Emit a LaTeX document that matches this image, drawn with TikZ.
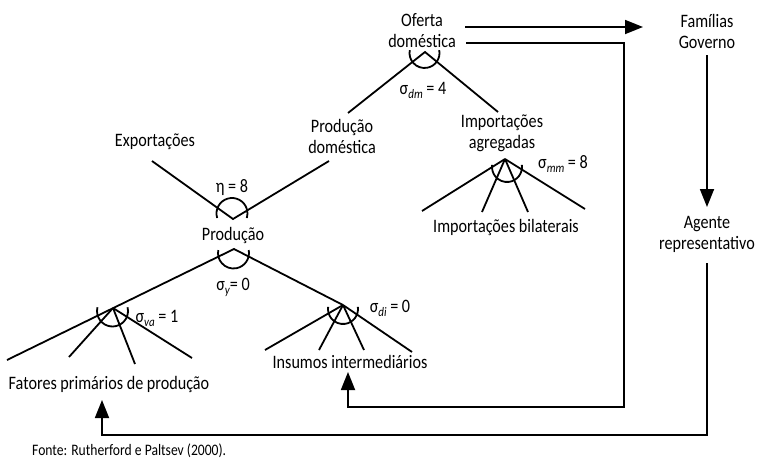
\documentclass[tikz,border=0pt]{standalone}
\usepackage{fontspec}
\setmainfont[FakeStretch=0.85]{Carlito}
\usetikzlibrary{arrows.meta}
\newcommand\sgsub[1]{\raisebox{-4pt}{\fontsize{13}{13}\selectfont\itshape #1}}
\tikzset{
  lbl/.style={inner sep=0pt, font=\fontsize{19}{21}\selectfont},
  twolines/.style={lbl, align=center},
  src/.style={inner sep=0pt, font=\fontsize{16}{18}\selectfont},
  branch/.style={line width=1.8pt},
  elast/.style={line width=1.8pt},
  flow/.style={line width=1.8pt, -{Triangle[length=18pt,width=14pt]}},
  flowline/.style={line width=1.8pt}
}
\begin{document}
\begin{tikzpicture}[x=1pt, y=-1pt]
\path[use as bounding box] (0,0) rectangle (758,466);

% text nodes
\node[twolines] (oferta) at (422,30.5) {Oferta\\doméstica};
\node[twolines] (proddom) at (342,136) {Produção\\doméstica};
\node[twolines] (impagr) at (502,133) {Importações\\agregadas};
\node[twolines] (famgov) at (707,31) {Famílias\\Governo};
\node[twolines] (agente) at (707,234.5) {Agente\\representativo};
\node[lbl, anchor=base] (export) at (155,146) {Exportações};
\node[lbl, anchor=base] (eta) at (232,192) {η = 8};
\node[lbl, anchor=base] (producao) at (233,240) {Produção};
\node[lbl, anchor=base] (sy) at (233,290) {σ\sgsub{y}= 0};
\node[lbl, anchor=base] (sdm) at (423,94) {σ\sgsub{dm} = 4};
\node[lbl, anchor=base] (smm) at (563,168) {σ\sgsub{mm} = 8};
\node[lbl, anchor=base] (sva) at (157,322) {σ\sgsub{va} = 1};
\node[lbl, anchor=base] (sdi) at (390,312) {σ\sgsub{di} = 0};
\node[lbl, anchor=base] (fatores) at (109,389) {Fatores primários de produção};
\node[lbl, anchor=base] (insumos) at (350,368) {Insumos intermediários};
\node[lbl, anchor=base] (impbil) at (506,232) {Importações bilaterais};
\node[src, anchor=base west] (fonte) at (32,455) {Fonte: Rutherford e Paltsev (2000).};

% vertices
\coordinate (vO) at (425,52);
\coordinate (vP1) at (233,219);
\coordinate (vP2) at (234,249);
\coordinate (vVA) at (113,308);
\coordinate (vDI) at (343,305);
\coordinate (vMM) at (505,159);

% branch ends
\coordinate (eO1) at (348,113);
\coordinate (eO2) at (498,112);
\coordinate (eP1a) at (152,161);
\coordinate (eP1b) at (329,161);
\coordinate (eVA1) at (7,360);
\coordinate (eVA2) at (69,357);
\coordinate (eVA3) at (135,364);
\coordinate (eVA4) at (192,358);
\coordinate (eDI1) at (265,350);
\coordinate (eDI2) at (319,350);
\coordinate (eDI3) at (364,350);
\coordinate (eDI4) at (412,352);
\coordinate (eMM1) at (422,211);
\coordinate (eMM2) at (482,212);
\coordinate (eMM3) at (528,212);
\coordinate (eMM4) at (585,209);

% tree lines
\draw[branch] (eO1) -- (vO) -- (eO2);
\draw[branch] (eP1a) -- (vP1) -- (eP1b);
\draw[branch] (eVA1) -- (vP2) -- (vDI);
\draw[branch] (vVA) -- (eVA2);
\draw[branch] (vVA) -- (eVA3);
\draw[branch] (vVA) -- (eVA4);
\draw[branch] (vDI) -- (eDI1);
\draw[branch] (vDI) -- (eDI2);
\draw[branch] (vDI) -- (eDI3);
\draw[branch] (vDI) -- (eDI4);
\draw[branch] (vMM) -- (eMM1);
\draw[branch] (vMM) -- (eMM2);
\draw[branch] (vMM) -- (eMM3);
\draw[branch] (vMM) -- (eMM4);

% elasticity arcs
\draw[elast] (424.5,53) ++(-11:15) arc[start angle=-11, end angle=191, radius=15];
\draw[elast] (232,213.5) ++(163:15.5) arc[start angle=163, end angle=377, radius=15.5];
\draw[elast] (233.5,253) ++(-11:15.5) arc[start angle=-11, end angle=191, radius=15.5];
\draw[elast] (112.5,311) ++(-14:15.5) arc[start angle=-14, end angle=194, radius=15.5];
\draw[elast] (343,309) ++(-8:15) arc[start angle=-8, end angle=188, radius=15];
\draw[elast] (507,167) ++(-8:15) arc[start angle=-8, end angle=188, radius=15];

% flows
\coordinate (a1s) at (465,27);
\coordinate (a1e) at (643,27);
\coordinate (a2s) at (466,43);
\coordinate (a2c) at (624,407);
\coordinate (a2e) at (348,372);
\coordinate (a3s) at (707,55);
\coordinate (a3e) at (707,207);
\coordinate (a4s) at (707,263);
\coordinate (a4c) at (102,435);
\coordinate (a4e) at (102,400);

\draw[flow] (a1s) -- (a1e);
\draw[flow] (a2s) -| (a2c) -| (a2e);
\draw[flow] (a3s) -- (a3e);
\draw[flow] (a4s) |- (a4c) -- (a4e);
\end{tikzpicture}
\end{document}
